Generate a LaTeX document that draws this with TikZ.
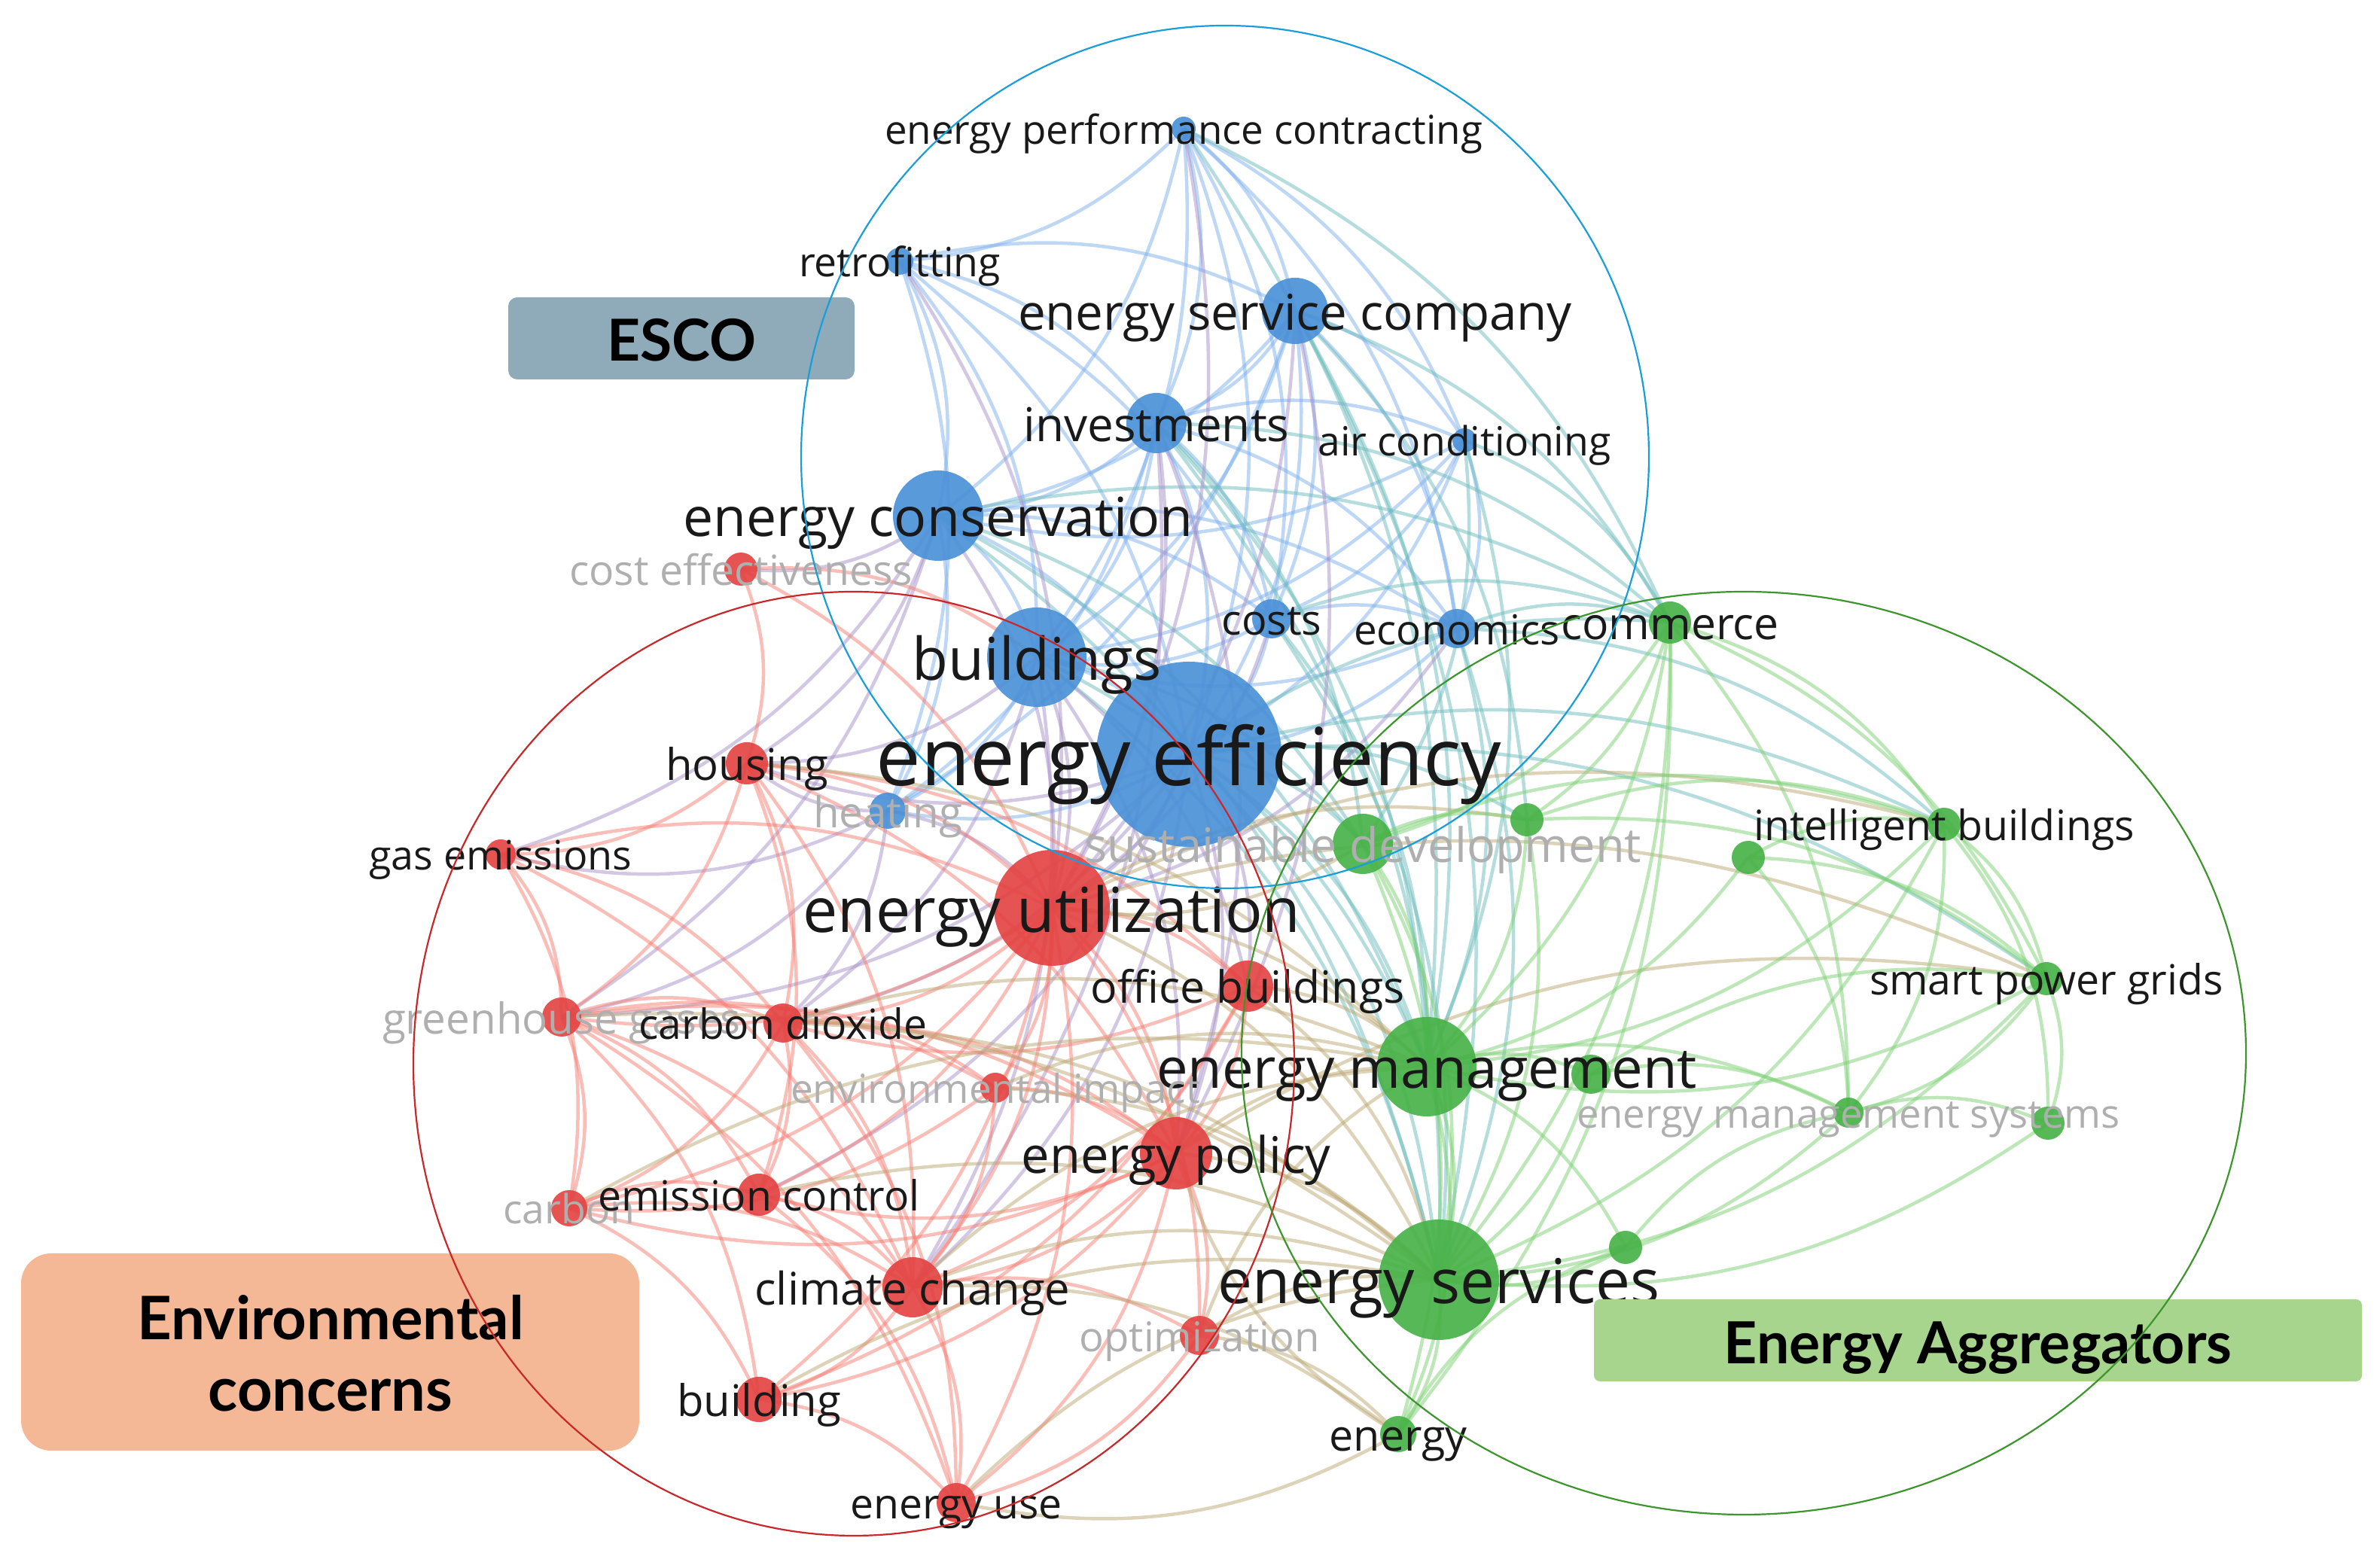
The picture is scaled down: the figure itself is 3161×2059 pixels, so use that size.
\documentclass[tikz,border=0pt]{standalone}
\usepackage{fontspec}
\setmainfont{Open Sans}
\newfontfamily\boxfont{Lato}
\definecolor{eblue}{RGB}{125,175,235}
\definecolor{ered}{RGB}{245,125,115}
\definecolor{egreen}{RGB}{125,208,115}
\definecolor{epurple}{RGB}{168,145,200}
\definecolor{ebrown}{RGB}{188,168,115}
\definecolor{eteal}{RGB}{110,188,188}
\definecolor{nblue}{RGB}{75,145,215}
\definecolor{nred}{RGB}{228,68,68}
\definecolor{ngreen}{RGB}{72,178,72}
\definecolor{lblk}{RGB}{25,25,25}
\definecolor{lgry}{RGB}{175,175,175}
\definecolor{cblue}{RGB}{26,158,217}
\definecolor{cred}{RGB}{200,40,42}
\definecolor{cgreen}{RGB}{60,150,45}
\definecolor{boxesco}{RGB}{143,170,185}
\definecolor{boxenv}{RGB}{244,184,151}
\definecolor{boxagg}{RGB}{168,213,142}
\newlength\fitw
% #2 = target width in reference pixels (1 px = 0.1 pt)
\newcommand\fittext[3][]{%
  \settowidth\fitw{#1\fontsize{10pt}{12pt}\selectfont #3}%
  \pgfmathsetmacro\fitsz{#2/\fitw}%
  {#1\fontsize{\fitsz pt}{\fitsz pt}\selectfont\rule[-0.24em]{0pt}{1.26em}\smash{#3}}}
\tikzset{
  edge/.style={line width=0.45pt, opacity=0.5},
  kwnode/.style={circle, inner sep=0pt, fill opacity=0.92},
  lbl/.style={inner sep=0pt, anchor=center},
  cluster/.style={line width=0.22pt},
  tagbox/.style={inner sep=0pt}
}
\begin{document}
\begin{tikzpicture}[x=0.1pt,y=-0.1pt]
\useasboundingbox (0,0) rectangle (3161,2059);
\foreach \n/\x/\y in {
 epc/1572/171, retro/1195/347, esc/1720/413, inv/1536/562, ac/1945/585, econs/1246/685,
 costs/1689/822, econ/1935/835, bldgs/1377/873, ee/1579/1002, heat/1179/1077,
 costeff/984/756, housing/992/1014, gas/665/1135, eu/1397/1206, office/1657/1310, ghg/746/1351,
 co2/1040/1359, envimp/1322/1445, policy/1562/1532, carbon/756/1605, emis/1008/1587, climate/1212/1710,
 optim/1593/1774, building/1008/1859, use/1270/1996,
 commerce/2218/827, sustdev/1810/1121, g1/2028/1089, g2/2322/1139, intel/2582/1095, smart/2718/1300,
 mgmt/1895/1417, g3/2113/1427, ems1/2455/1478, ems2/2720/1492, g4/2159/1657, services/1911/1700,
 energy/1857/1905}
 \coordinate (\n) at (\x,\y);
% edges
\foreach \a/\b in {epc/retro, epc/esc, epc/inv, epc/econs, epc/ee, epc/bldgs, epc/costs, epc/econ,
 retro/esc, retro/econs, retro/ee, retro/bldgs, retro/inv, esc/inv, esc/econs, esc/ee, esc/bldgs,
 esc/costs, esc/econ, esc/ac, inv/econs, inv/ee, inv/bldgs, inv/costs, inv/econ, ac/ee, ac/econs,
 ac/bldgs, econs/bldgs, econs/ee, econs/costs, econs/heat, econs/econ, costs/ee, costs/bldgs,
 costs/econ, econ/ee, econ/bldgs, bldgs/ee, bldgs/heat, ee/heat, retro/costs, retro/heat, inv/heat,
 esc/heat, ac/costs, ac/econ, inv/ac, epc/ac}
 \draw[edge, eblue] (\a) to[bend left=20] (\b);
\foreach \a/\b in {esc/commerce, esc/mgmt, esc/services, inv/sustdev, inv/mgmt, inv/commerce, ac/mgmt,
 econs/commerce, econs/mgmt, econs/services, econ/commerce, bldgs/mgmt, bldgs/services, ee/mgmt,
 ee/services, ee/sustdev, ee/commerce, ee/intel, ee/smart, ee/g1, costs/services, ac/commerce, econ/intel,
 esc/g1, inv/services, econs/sustdev, bldgs/sustdev, costs/mgmt, costs/commerce, econ/mgmt,
 econ/services, ac/sustdev, epc/mgmt, epc/commerce}
 \draw[edge, eteal] (\a) to[bend left=20] (\b);
\foreach \a/\b in {econs/eu, econs/costeff, bldgs/eu, bldgs/housing, bldgs/office, ee/eu, ee/policy,
 ee/housing, ee/office, ee/climate, ee/co2, heat/eu, heat/housing, heat/gas, inv/eu, esc/policy,
 ee/ghg, ee/emis, econs/housing, inv/climate, retro/eu, epc/eu, esc/eu, bldgs/policy, bldgs/climate,
 costs/eu, econ/eu, bldgs/co2, inv/policy, heat/co2, heat/ghg, econs/ghg, econs/gas}
 \draw[edge, epurple] (\a) to[bend left=20] (\b);
\foreach \a/\b in {costeff/eu, costeff/housing, costeff/bldgs, housing/eu, housing/gas, housing/ghg,
 housing/co2, housing/climate, housing/policy, housing/emis, housing/office, gas/ghg, gas/eu, gas/co2,
 gas/carbon, gas/climate, eu/office, eu/ghg, eu/co2, eu/envimp, eu/policy, eu/carbon, eu/emis,
 eu/climate, eu/optim, eu/building, eu/use, office/policy, office/climate, office/co2, office/building,
 ghg/co2, ghg/carbon, ghg/emis, ghg/climate, ghg/policy, ghg/use, ghg/building, ghg/envimp, co2/emis,
 co2/climate, co2/policy, co2/carbon, co2/envimp, co2/use, envimp/policy, envimp/climate, envimp/carbon,
 policy/climate, policy/emis, policy/optim, policy/use, policy/carbon, policy/building, carbon/emis,
 carbon/climate, carbon/building, emis/climate, emis/use, climate/building, climate/use, climate/optim,
 optim/use, building/use}
 \draw[edge, ered] (\a) to[bend left=20] (\b);
\foreach \a/\b in {eu/mgmt, eu/services, office/mgmt, policy/services, policy/mgmt, climate/services,
 optim/services, optim/mgmt, sustdev/eu, energy/policy, energy/use, co2/mgmt, ghg/services, envimp/mgmt,
 housing/mgmt, emis/services, eu/intel, policy/smart, climate/mgmt, co2/services, envimp/services,
 climate/energy, use/services, building/services, office/services, eu/g1, eu/smart, optim/energy,
 carbon/mgmt}
 \draw[edge, ebrown] (\a) to[bend left=20] (\b);
\foreach \a/\b in {commerce/mgmt, commerce/services, commerce/sustdev, commerce/intel, commerce/g1,
 commerce/energy, sustdev/mgmt, sustdev/services, sustdev/g1, g1/mgmt, g1/services, g2/intel, g2/smart,
 g2/mgmt, g2/ems1, intel/smart, intel/mgmt, intel/ems1, intel/ems2, intel/services, smart/ems1,
 smart/ems2, smart/mgmt, smart/services, mgmt/g3, mgmt/ems1, mgmt/services, mgmt/g4, mgmt/energy,
 g3/services, g3/ems1, ems1/ems2, ems1/services, ems2/services, g4/services, services/energy,
 g1/intel, g1/smart, g4/ems1, g3/smart, energy/g4, commerce/ems1, commerce/smart, sustdev/intel,
 sustdev/energy}
 \draw[edge, egreen] (\a) to[bend left=20] (\b);
% circles
\foreach \n/\r/\c in {
 epc/16/nblue, retro/18/nblue, esc/44/nblue, inv/40/nblue, ac/16/nblue, econs/60/nblue,
 costs/26/nblue, econ/26/nblue, bldgs/66/nblue, ee/123/nblue, heat/24/nblue,
 costeff/22/nred, housing/28/nred, gas/20/nred, eu/77/nred, office/34/nred, ghg/26/nred,
 co2/26/nred, envimp/20/nred, policy/48/nred, carbon/24/nred, emis/28/nred, climate/40/nred,
 optim/26/nred, building/30/nred, use/26/nred,
 commerce/28/ngreen, sustdev/40/ngreen, g1/22/ngreen, g2/22/ngreen, intel/22/ngreen,
 smart/22/ngreen, mgmt/66/ngreen, g3/26/ngreen, ems1/20/ngreen, ems2/22/ngreen,
 g4/22/ngreen, services/80/ngreen, energy/24/ngreen}
 \node[kwnode, fill=\c, minimum size=0.2*\r pt] (\n-c) at (\n) {};
% labels
\foreach \n/\w/\t/\c in {
 epc/794/energy performance contracting/lblk, retro/268/retrofitting/lblk,
 esc/736/energy service company/lblk, inv/353/investments/lblk, ac/389/air conditioning/lblk,
 econs/677/energy conservation/lblk, costeff/456/cost effectiveness/lgry, costs/133/costs/lblk,
 econ/274/economics/lblk, commerce/290/commerce/lblk, bldgs/331/buildings/lblk,
 ee/831/energy efficiency/lblk, housing/216/housing/lblk, heat/198/heating/lgry,
 sustdev/740/sustainable development/lgry, intel/506/intelligent buildings/lblk,
 gas/349/gas emissions/lblk, eu/661/energy utilization/lblk, smart/470/smart power grids/lblk,
 office/417/office buildings/lblk, ghg/476/greenhouse gases/lgry, co2/383/carbon dioxide/lblk,
 mgmt/718/energy management/lblk, envimp/544/environmental impact/lgry,
 ems1/722/energy management systems/lgry, policy/411/energy policy/lblk, carbon/175/carbon/lgry,
 emis/427/emission control/lblk, climate/419/climate change/lblk, services/587/energy services/lblk,
 optim/319/optimization/lgry, building/218/building/lblk, energy/183/energy/lblk,
 use/282/energy use/lblk}
 \node[lbl, text=\c] (\n-l) at (\n) {\fittext{\w}{\t}};
% tag boxes
\fill[boxesco, rounded corners=1.2pt] (675,395) rectangle (1135,504);
\node[tagbox] (esco) at (905,450) {\fittext[\boxfont\bfseries]{198}{ESCO}};
\fill[boxenv, rounded corners=4pt] (28,1665) rectangle (849,1927);
\node[tagbox] (env1) at (439,1748) {\fittext[\boxfont\bfseries]{514}{Environmental}};
\node[tagbox] (env2) at (439,1843) {\fittext[\boxfont\bfseries]{325}{concerns}};
\fill[boxagg, rounded corners=0.8pt] (2117,1726) rectangle (3137,1835);
\node[tagbox] (agg) at (2627,1781) {\fittext[\boxfont\bfseries]{675}{Energy Aggregators}};
% cluster ellipses
\draw[cluster, cblue] (1627,607) ellipse [x radius=563, y radius=573];
\draw[cluster, cred] (1134,1413) ellipse [x radius=585, y radius=627];
\draw[cluster, cgreen] (2316,1399) ellipse [x radius=667, y radius=613];
\end{tikzpicture}
\end{document}
